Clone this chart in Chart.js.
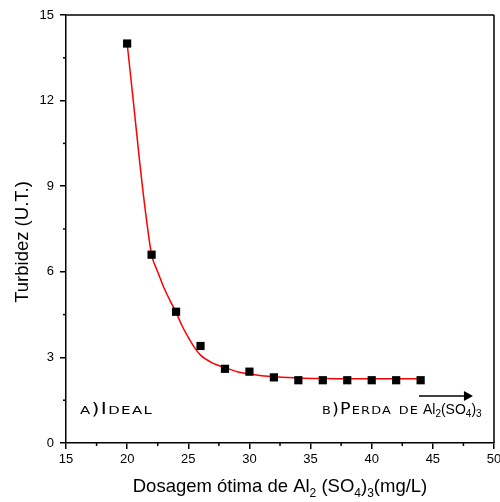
<!DOCTYPE html>
<html>
<head>
<meta charset="utf-8">
<script src="https://cdn.jsdelivr.net/npm/chart.js@4.4.1/dist/chart.umd.min.js"></script>
<style>
  html, body { margin: 0; padding: 0; background: #fff; }
  #wrap { width: 500px; height: 502px; }
</style>
</head>
<body>
<div id="wrap"><canvas id="grafico"></canvas></div>
<script>
// =============================
// DADOS
// =============================
const dosagem = [20, 22, 24, 26, 28, 30, 32, 34, 36, 38, 40, 42, 44];
const turbidez = [14.0, 6.6, 4.6, 3.4, 2.6, 2.5, 2.3, 2.2, 2.2, 2.2, 2.2, 2.2, 2.2];

// curva de ajuste (vermelha), pontos lidos sobre a linha
const ajusteX = [20, 20.5, 21, 21.5, 22, 22.5, 23, 23.5, 24, 24.5, 25, 25.5, 26, 27, 28, 29, 30, 32, 34, 36, 38, 40, 42, 44];
const ajusteY = [14.0, 12.0, 9.95, 8.1, 6.6, 6.0, 5.45, 5.0, 4.58, 4.1, 3.7, 3.35, 3.08, 2.8, 2.64, 2.5, 2.42, 2.32, 2.28, 2.26, 2.25, 2.25, 2.25, 2.25];

const ticksX = [15, 20, 25, 30, 35, 40, 45, 50];
const ticksY = [0, 3, 6, 9, 12, 15];
const menoresX = [17.5, 22.5, 27.5, 32.5, 37.5, 42.5, 47.5];
const menoresY = [1.5, 4.5, 7.5, 10.5, 13.5];

const FONTE = "'Liberation Sans', Arial, sans-serif";

// =============================
// UTILIDADES
// =============================
// desenha pedacos de texto em sequencia; sub = subscrito
function textoComSub(ctx, partes, x, y, tam, tamSub, desloc) {
  let cx = x;
  partes.forEach(p => {
    ctx.font = (p.sub ? tamSub : tam) + "px " + FONTE;
    ctx.fillText(p.t, cx, p.sub ? y + desloc : y);
    cx += ctx.measureText(p.t).width;
  });
  return cx - x;
}

function larguraSub(ctx, partes, tam, tamSub) {
  let w = 0;
  partes.forEach(p => {
    ctx.font = (p.sub ? tamSub : tam) + "px " + FONTE;
    w += ctx.measureText(p.t).width;
  });
  return w;
}

// versalete largo (parecido com Copperplate)
function versalete(ctx, txt, x, y, esc) {
  ctx.save();
  ctx.font = "small-caps 15px 'DejaVu Sans', sans-serif";
  ctx.letterSpacing = "1px";
  ctx.translate(x, y);
  ctx.scale(esc, 1);
  ctx.fillText(txt, 0, 0);
  const w = ctx.measureText(txt).width * esc;
  ctx.restore();
  return w;
}

// =============================
// PLUGIN: moldura, ticks menores, titulos, anotacoes
// =============================
const extras = {
  id: "extras",
  afterDraw(chart) {
    const ctx = chart.ctx;
    const a = chart.chartArea;
    const sx = chart.scales.x;
    const sy = chart.scales.y;

    ctx.save();

    // moldura de cima e da direita
    ctx.strokeStyle = "#404040";
    ctx.lineWidth = 2;
    ctx.beginPath();
    ctx.moveTo(a.left, a.top);
    ctx.lineTo(a.right, a.top);
    ctx.stroke();
    ctx.strokeStyle = "#000";
    ctx.lineWidth = 1.5;
    ctx.beginPath();
    ctx.moveTo(a.right, a.top);
    ctx.lineTo(a.right, a.bottom);
    ctx.stroke();

    // ticks menores
    ctx.lineWidth = 1.5;
    menoresX.forEach(v => {
      const px = sx.getPixelForValue(v);
      ctx.beginPath();
      ctx.moveTo(px, a.bottom);
      ctx.lineTo(px, a.bottom + 3);
      ctx.stroke();
    });
    menoresY.forEach(v => {
      const py = sy.getPixelForValue(v);
      ctx.beginPath();
      ctx.moveTo(a.left, py);
      ctx.lineTo(a.left - 3, py);
      ctx.stroke();
    });

    ctx.fillStyle = "#000";
    ctx.textAlign = "left";
    ctx.textBaseline = "alphabetic";

    // titulo eixo Y
    ctx.save();
    ctx.translate(23, 242);
    ctx.rotate(-Math.PI / 2);
    ctx.textAlign = "center";
    ctx.textBaseline = "middle";
    ctx.font = "18.5px " + FONTE;
    ctx.fillText("Turbidez (U.T.)", 0, 0);
    ctx.restore();

    // titulo eixo X
    const tituloX = [
      { t: "Dosagem ótima de Al" }, { t: "2", sub: true },
      { t: " (SO" }, { t: "4", sub: true }, { t: ")" }, { t: "3", sub: true },
      { t: "(mg/L)" }
    ];
    const wX = larguraSub(ctx, tituloX, 18.5, 12);
    textoComSub(ctx, tituloX, (a.left + a.right) / 2 - wX / 2, 492, 18.5, 12, 5);

    // anotacoes
    const base = sy.getPixelForValue(1.02);
    versalete(ctx, "a)Ideal", sx.getPixelForValue(16.14), base, 1.36);
    versalete(ctx, "b)Perda de", sx.getPixelForValue(35.93), base, 1.17);
    const formula = [
      { t: "Al" }, { t: "2", sub: true }, { t: "(SO" }, { t: "4", sub: true },
      { t: ")" }, { t: "3", sub: true }
    ];
    textoComSub(ctx, formula, sx.getPixelForValue(44.19), base, 14, 10, 3);

    // seta
    const x0 = sx.getPixelForValue(43.87);
    const x1 = sx.getPixelForValue(48.28);
    const ys = sy.getPixelForValue(1.65);
    ctx.strokeStyle = "#000";
    ctx.lineWidth = 1.5;
    ctx.beginPath();
    ctx.moveTo(x0, ys);
    ctx.lineTo(x1 - 6, ys);
    ctx.stroke();
    ctx.beginPath();
    ctx.moveTo(x1, ys);
    ctx.lineTo(x1 - 9, ys - 5);
    ctx.lineTo(x1 - 9, ys + 5);
    ctx.closePath();
    ctx.fill();

    ctx.restore();
  }
};

// =============================
// GRAFICO
// =============================
new Chart(document.getElementById("grafico"), {
  type: "scatter",
  data: {
    datasets: [
      {
        label: "Turbidez",
        data: dosagem.map((x, i) => ({ x, y: turbidez[i] })),
        pointStyle: "rect",
        pointRadius: 5.8,
        pointHoverRadius: 5.8,
        pointBackgroundColor: "#000",
        pointBorderColor: "#000",
        pointBorderWidth: 0,
        showLine: false
      },
      {
        label: "Ajuste",
        data: ajusteX.map((x, i) => ({ x, y: ajusteY[i] })),
        showLine: true,
        borderColor: "#ff0000",
        borderWidth: 1.5,
        pointRadius: 0,
        cubicInterpolationMode: "monotone",
        fill: false
      }
    ]
  },
  options: {
    responsive: true,
    maintainAspectRatio: false,
    animation: false,
    events: [],
    layout: { padding: { top: 15, right: 6, left: 0, bottom: 0 } },
    plugins: {
      legend: { display: false },
      tooltip: { enabled: false }
    },
    scales: {
      x: {
        type: "linear",
        min: 15,
        max: 50,
        afterBuildTicks: s => { s.ticks = ticksX.map(v => ({ value: v })); },
        afterFit: s => {
          s.height = 59;
          s.paddingLeft = 0;
          s.paddingRight = 0;
        },
        grid: {
          drawOnChartArea: false,
          drawTicks: true,
          tickLength: 6,
          color: "#000",
          lineWidth: 1.5
        },
        border: { color: "#000", width: 1.5 },
        ticks: {
          color: "#000",
          font: { family: FONTE, size: 13 },
          padding: 3,
          maxRotation: 0
        }
      },
      y: {
        min: 0,
        max: 15,
        afterBuildTicks: s => { s.ticks = ticksY.map(v => ({ value: v })); },
        afterFit: s => {
          s.width = 66;
          s.paddingTop = 0;
          s.paddingBottom = 0;
        },
        grid: {
          drawOnChartArea: false,
          drawTicks: true,
          tickLength: 6,
          color: "#000",
          lineWidth: 1.5
        },
        border: { color: "#000", width: 1.5 },
        ticks: {
          color: "#000",
          font: { family: FONTE, size: 13 },
          padding: 6
        }
      }
    }
  },
  plugins: [extras]
});
</script>
</body>
</html>
